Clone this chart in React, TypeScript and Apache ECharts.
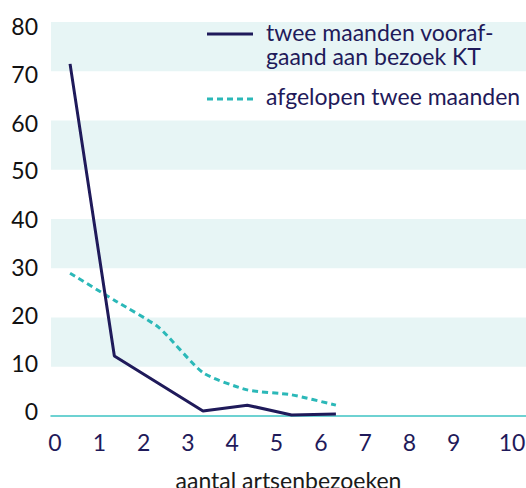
import React, { useEffect, useRef } from "react";
import * as echarts from "echarts";

const xTicks = [0, 1, 2, 3, 4, 5, 6, 7, 8, 9, 10];
const pointX = [0.34, 1.34, 2.34, 3.34, 4.34, 5.34, 6.34];
const voorafgaand = [71.5, 12.2, 6.6, 1.0, 2.2, 0.2, 0.4];
const afgelopen = [29, 23.5, 18, 8.8, 5.3, 4.3, 2.2];
const yTicks = [0, 10, 20, 30, 40, 50, 60, 70, 80];
const legendText1 = "twee maanden vooraf-\ngaand aan bezoek KT";
const legendText2 = "afgelopen twee maanden";
const xTitle = "aantal artsenbezoeken";

const NAVY = "#1f1a5a";
const TEAL = "#2bb8b8";
const BAND = "#e7f5f5";
const FONT = "Lato";
const FS = 23;

// per-label vertical nudge (px, negative = up) so y labels sit as in the reference
const yRich: Record<string, any> = {};
yTicks.forEach((v) => {
  const s = -5 + 0.1125 * v;
  const pad = Math.round(Math.abs(s) * 2);
  yRich["y" + v] = {
    color: "#111",
    fontFamily: FONT,
    fontSize: FS,
    padding: s < 0 ? [0, 0, pad, 0] : [pad, 0, 0, 0],
  };
});

export default function App() {
  const ref = useRef<HTMLDivElement>(null);
  useEffect(() => {
    if (!ref.current) return;
    const chart = echarts.init(ref.current, undefined, { renderer: "svg" });
    chart.setOption({
      animation: false,
      grid: { left: 51, right: 0, top: 22, bottom: 72, containLabel: false, outerBoundsMode: "none" },
      xAxis: {
        type: "value",
        min: -0.09,
        max: 10.63,
        interval: 1,
        axisLine: { show: true, lineStyle: { color: "#3ec3c3", width: 1.5 } },
        axisTick: { show: false },
        splitLine: { show: false },
        axisLabel: {
          color: NAVY,
          fontFamily: FONT,
          fontSize: FS,
          margin: 14,
          customValues: xTicks,
          formatter: (v: number) => (v === 10 ? "{t|10}" : String(v)),
          rich: { t: { padding: [0, 0, 0, 28], color: NAVY, fontFamily: FONT, fontSize: FS } },
        },
        name: xTitle,
        nameLocation: "middle",
        nameGap: 52,
        nameTextStyle: { color: "#1a1a1a", fontFamily: FONT, fontSize: FS },
      },
      yAxis: {
        type: "value",
        min: 0,
        max: 80,
        interval: 10,
        axisLine: { show: false },
        axisTick: { show: false },
        splitLine: { show: false },
        splitArea: { show: true, areaStyle: { color: ["rgba(255,255,255,0)", BAND] } },
        axisLabel: {
          color: "#111",
          fontFamily: FONT,
          fontSize: FS,
          margin: 13,
          customValues: yTicks,
          formatter: (v: number) => `{y${v}|${v}}`,
          rich: yRich,
        },
      },
      series: [
        {
          name: legendText1.replace("\n", ""),
          type: "line",
          data: pointX.map((x, i) => [x, voorafgaand[i]]),
          symbol: "none",
          lineStyle: { color: NAVY, width: 3 },
          z: 3,
        },
        {
          name: legendText2,
          type: "line",
          data: pointX.map((x, i) => [x, afgelopen[i]]),
          symbol: "none",
          smooth: 0.2,
          lineStyle: { color: TEAL, width: 3, type: [6, 4] },
          z: 2,
        },
      ],
      graphic: [
        { type: "line", z: 10, shape: { x1: 207, y1: 34, x2: 253, y2: 34 }, style: { stroke: NAVY, lineWidth: 3 } },
        {
          type: "text",
          z: 10,
          x: 266,
          y: 20,
          style: {
            text: legendText1,
            fill: NAVY,
            fontFamily: FONT,
            fontSize: FS,
            lineHeight: 24,
            verticalAlign: "top",
          },
        },
        { type: "line", z: 10, shape: { x1: 207, y1: 99, x2: 254, y2: 99 }, style: { stroke: TEAL, lineWidth: 3, lineDash: [6, 4] } },
        {
          type: "text",
          z: 10,
          x: 266,
          y: 96,
          style: { text: legendText2, fill: NAVY, fontFamily: FONT, fontSize: FS, verticalAlign: "middle" },
        },
      ],
    });
    return () => chart.dispose();
  }, []);
  return <div ref={ref} style={{ position: "absolute", left: 0, top: 0, width: 526, height: 488 }} />;
}
